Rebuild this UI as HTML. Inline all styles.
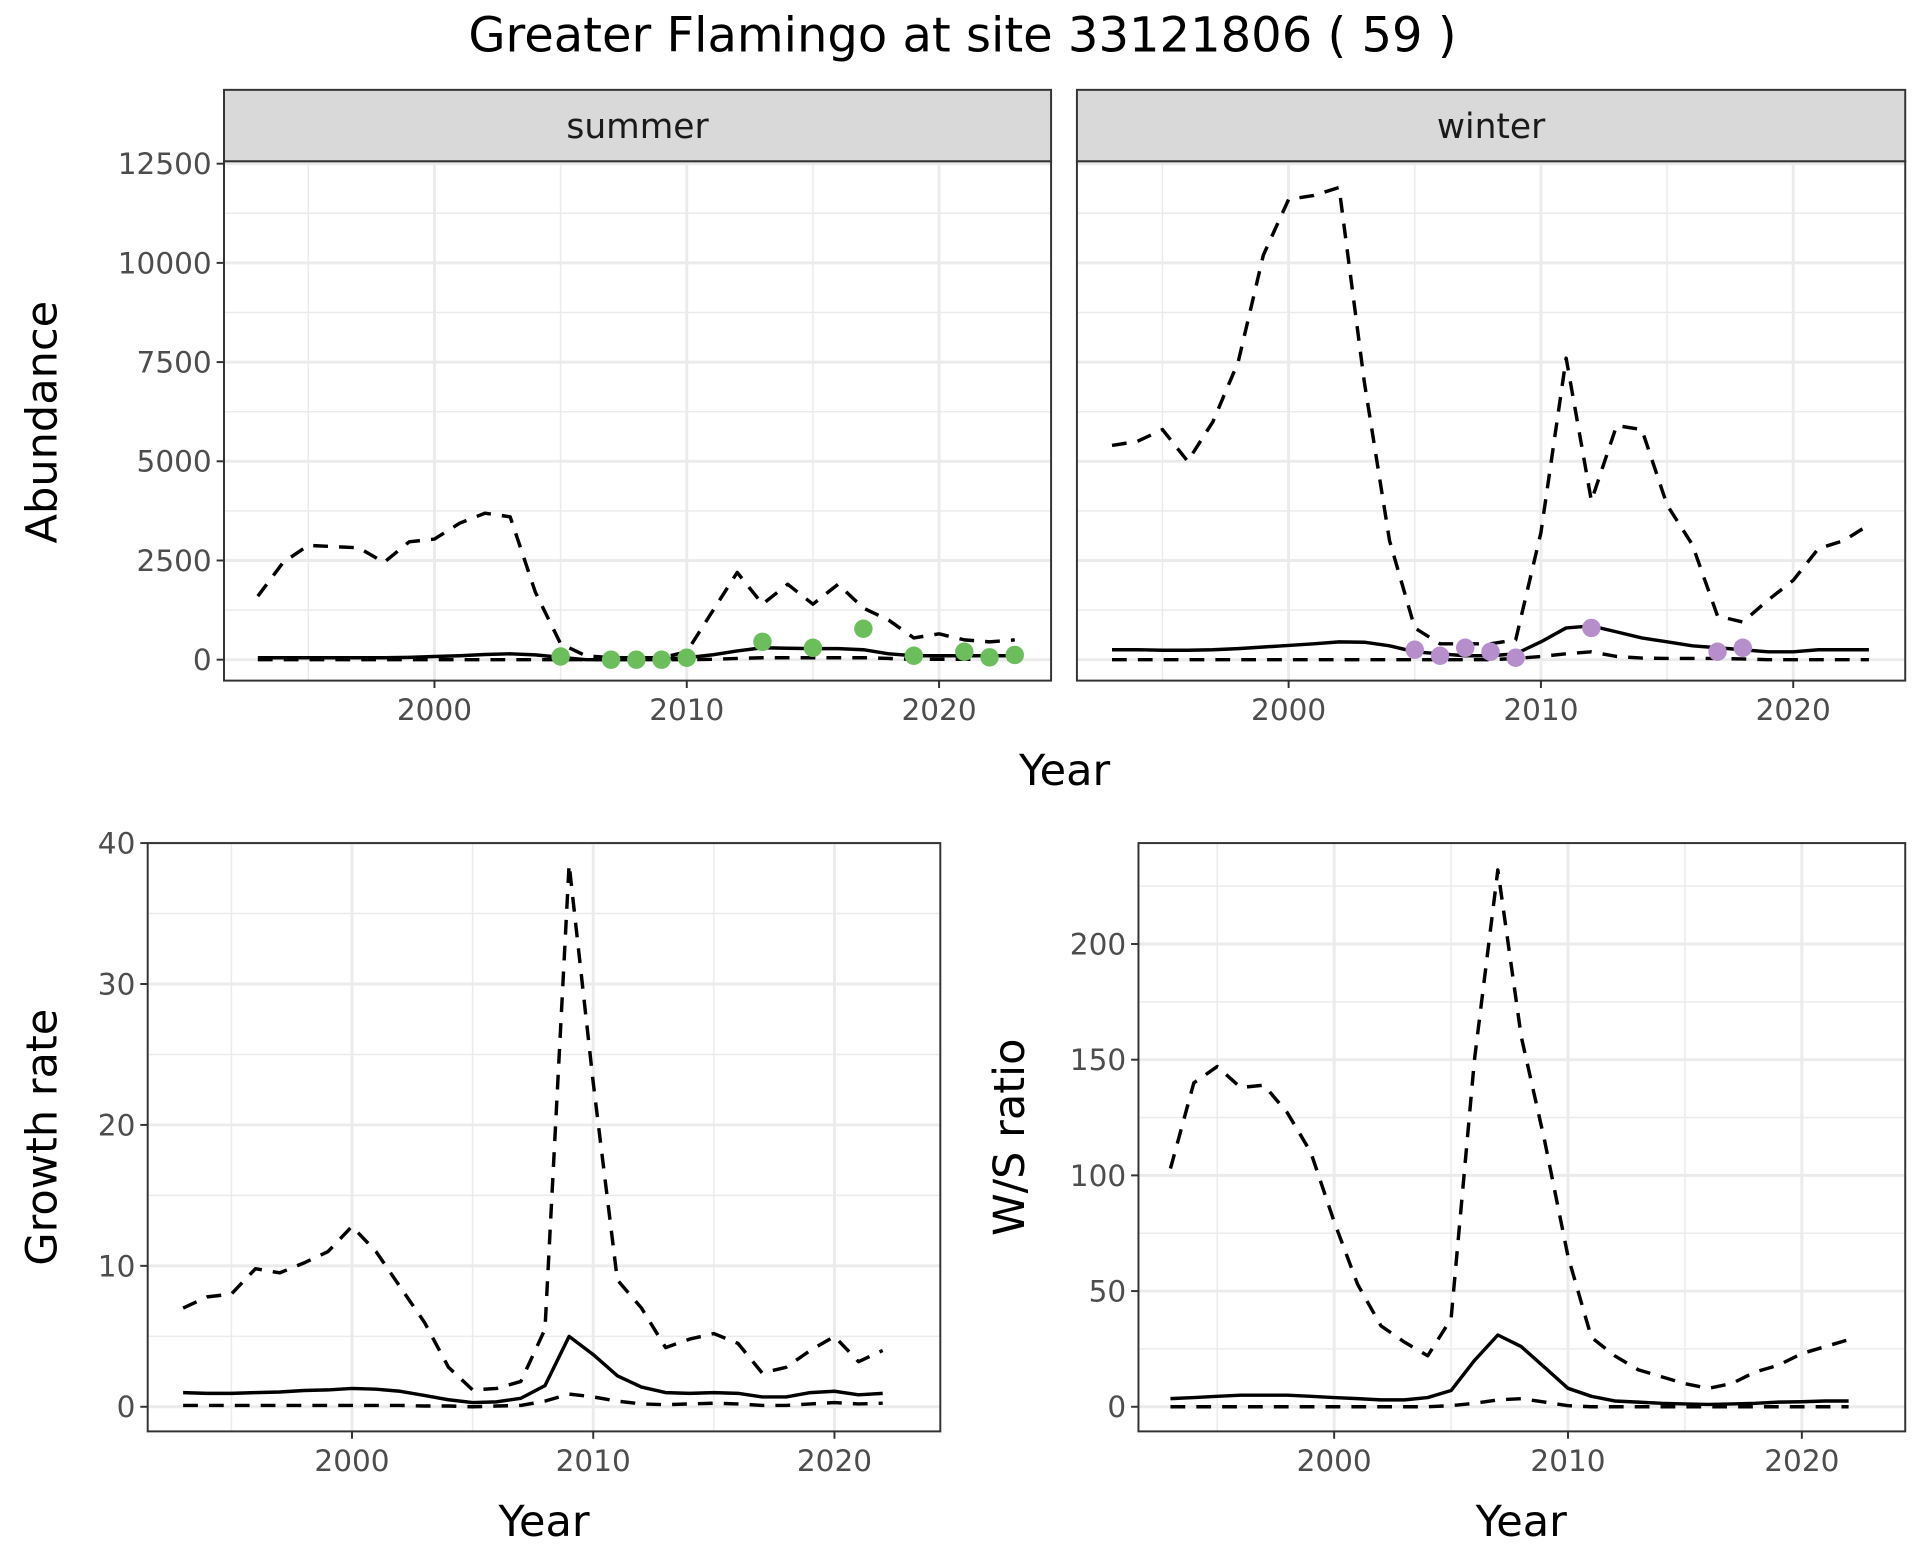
<!DOCTYPE html>
<html><head><meta charset="utf-8">
<style>
html,body{margin:0;padding:0;background:#fff;}
svg{display:block;font-family:"DejaVu Sans","Liberation Sans",sans-serif;}
</style></head>
<body>
<svg id="chart" width="1920" height="1560" viewBox="0 0 1560 1267.5" xmlns="http://www.w3.org/2000/svg">
<rect x="0" y="0" width="1560" height="1267.5" fill="#fff"/>
<text x="782" y="42" text-anchor="middle" font-size="39" fill="#000">Greater Flamingo at site 33121806 ( 59 )</text>
<g id="plots"></g>
</svg>
<script>
const yearsA = [1993,1994,1995,1996,1997,1998,1999,2000,2001,2002,2003,2004,2005,2006,2007,2008,2009,2010,2011,2012,2013,2014,2015,2016,2017,2018,2019,2020,2021,2022,2023];
const summerUpper = [1600,2450,2880,2850,2820,2450,2970,3040,3440,3690,3600,1700,400,100,50,50,50,200,1200,2200,1400,1900,1400,1900,1300,1000,550,650,500,450,500];
const summerMid = [50,50,50,50,50,50,60,80,100,130,150,120,60,0,0,10,20,50,120,220,300,290,280,280,250,150,100,100,100,100,100];
const summerLower = [0,0,0,0,0,0,0,0,0,0,0,0,0,0,0,0,0,0,10,30,50,50,50,50,50,30,10,10,10,10,10];
const summerPtYears = [2005,2007,2008,2009,2010,2013,2015,2017,2019,2021,2022,2023];
const summerPtVals = [80,0,0,0,50,450,300,780,100,200,60,120];
const winterUpper = [5400,5500,5800,5000,6000,7500,10200,11600,11700,11900,7000,3000,800,400,400,400,500,3200,7600,4000,5900,5800,3900,2900,1100,950,1500,2000,2800,3000,3400];
const winterMid = [250,250,240,240,250,280,320,360,400,450,440,350,200,150,100,100,150,450,800,850,700,550,450,350,300,250,200,200,250,250,250];
const winterLower = [0,0,0,0,0,0,0,0,0,0,0,0,0,0,0,0,30,80,150,200,80,40,30,30,30,20,0,0,0,0,0];
const winterPtYears = [2005,2006,2007,2008,2009,2012,2017,2018];
const winterPtVals = [250,100,300,200,50,800,200,300];
const abundTicks = [0,2500,5000,7500,10000,12500];

const yearsB = [1993,1994,1995,1996,1997,1998,1999,2000,2001,2002,2003,2004,2005,2006,2007,2008,2009,2010,2011,2012,2013,2014,2015,2016,2017,2018,2019,2020,2021,2022];
const growthUpper = [7,7.8,8,9.8,9.5,10.2,11,12.8,11,8.5,6,2.8,1.2,1.3,1.8,5.5,38.5,23,9,7,4.2,4.8,5.2,4.5,2.4,2.8,4,5,3.2,4];
const growthMid = [1,0.95,0.95,1,1.05,1.15,1.2,1.3,1.25,1.1,0.8,0.5,0.3,0.35,0.6,1.5,5,3.7,2.2,1.4,1,0.95,1,0.95,0.7,0.7,1,1.1,0.85,0.95];
const growthLower = [0.1,0.1,0.1,0.1,0.1,0.1,0.1,0.1,0.1,0.1,0.05,0.05,0,0.05,0.1,0.4,0.9,0.7,0.4,0.2,0.15,0.2,0.25,0.2,0.1,0.1,0.2,0.3,0.2,0.25];
const growthTicks = [0,10,20,30,40];
const ratioUpper = [103,140,147,138,139,127,110,80,53,35,28,22,38,150,232,160,115,65,30,22,16,13,10,8,10,15,18,23,26,29];
const ratioMid = [3.5,4,4.5,5,5,5,4.5,4,3.5,3,3,4,7,20,31,26,17,8,4.5,2.5,2,1.5,1.2,1,1.2,1.5,2,2.2,2.5,2.5];
const ratioLower = [0,0,0,0,0,0,0,0,0,0,0,0,0.5,1.5,3,3.5,2,0.5,0,0,0,0,0,0,0,0,0,0,0,0];
const ratioTicks = [0,50,100,150,200];
const yearTicks = [2000,2010,2020];

const NS = "http://www.w3.org/2000/svg";
const root = document.getElementById('plots');
function mk(tag, attrs, parent){
  const e = document.createElementNS(NS, tag);
  for (const k in attrs) e.setAttribute(k, attrs[k]);
  (parent||root).appendChild(e);
  return e;
}
function lin(d0,d1,r0,r1){ return v => r0 + (v-d0)/(d1-d0)*(r1-r0); }

function panel(cfg){
  const g = mk('g', {});
  
  
  const {x0,x1,y0,y1,xs,ys} = cfg;
  cfg.minorY.forEach(v=>{
    const l = mk('line',{x1:x0,x2:x1,y1:ys(v),y2:ys(v),stroke:'#EBEBEB','stroke-width':1.2},g);
    
    
  });
  [1995,2005,2015].forEach(v=>{
    const l = mk('line',{x1:xs(v),x2:xs(v),y1:y0,y2:y1,stroke:'#EBEBEB','stroke-width':1.2},g);
    
    
  });
  cfg.ticks.forEach(v=>{
    const l = mk('line',{x1:x0,x2:x1,y1:ys(v),y2:ys(v),stroke:'#EBEBEB','stroke-width':2.4},g);
    
    
  });
  yearTicks.forEach(v=>{
    const l = mk('line',{x1:xs(v),x2:xs(v),y1:y0,y2:y1,stroke:'#EBEBEB','stroke-width':2.4},g);
    
    
  });
  function path(xsArr, vals, dash, name, w){
    const d = vals.map((v,i)=>(i?'L':'M')+xs(xsArr[i]).toFixed(1)+','+ys(v).toFixed(1)).join(' ');
    const p = mk('path',{d, fill:'none', stroke:'#000','stroke-width':w||2.8,'stroke-dasharray':dash||'none','stroke-linejoin':'round'},g);
    
    
  }
  path(cfg.years, cfg.upper, '12,9', 'upper-bound-line');
  path(cfg.years, cfg.lower, '12,9', 'lower-bound-line');
  path(cfg.years, cfg.mid, null, 'trend-line');
  if (cfg.ptYears){
    cfg.ptYears.forEach((yr,i)=>{
      const c = mk('circle',{cx:xs(yr),cy:ys(cfg.ptVals[i]),r:7.5,fill:cfg.ptColor},g);
      
      
    });
  }
  const b = mk('rect',{x:x0,y:y0,width:x1-x0,height:y1-y0,fill:'none',stroke:'#333','stroke-width':1.6},g);
  
  
  if (cfg.showY){
    cfg.ticks.forEach(v=>{
      const t = mk('line',{x1:x0-6,x2:x0,y1:ys(v),y2:ys(v),stroke:'#333','stroke-width':1.6},g);
      
      
      const tx = mk('text',{x:x0-10,y:ys(v)+8.5,'text-anchor':'end','font-size':24,fill:'#4D4D4D'},g);
      tx.textContent = v;
      
      
    });
  }
  yearTicks.forEach(v=>{
    const t = mk('line',{x1:xs(v),x2:xs(v),y1:y1,y2:y1+6,stroke:'#333','stroke-width':1.6},g);
    
    
    const tx = mk('text',{x:xs(v),y:y1+32,'text-anchor':'middle','font-size':24,fill:'#4D4D4D'},g);
    tx.textContent = v;
    
    
  });
  if (cfg.strip){
    const s = mk('rect',{x:x0,y:73,width:x1-x0,height:y0-73,fill:'#D9D9D9',stroke:'#333','stroke-width':1.6},g);
    
    
    const st = mk('text',{x:(x0+x1)/2,y:112,'text-anchor':'middle','font-size':28,fill:'#1A1A1A'},g);
    st.textContent = cfg.strip;
    
    
  }
}

const ysA = lin(0,12500,536,133);
panel({name:'summer-panel',x0:182,x1:854,y0:131,y1:553,xs:lin(2000,2020,353,763),ys:ysA,years:yearsA,upper:summerUpper,mid:summerMid,lower:summerLower,ptYears:summerPtYears,ptVals:summerPtVals,ptColor:'#6BBE5B',ticks:abundTicks,minorY:[1250,3750,6250,8750,11250,13750],showY:true,strip:'summer'});
panel({name:'winter-panel',x0:875,x1:1548,y0:131,y1:553,xs:lin(2000,2020,1047,1457),ys:ysA,years:yearsA,upper:winterUpper,mid:winterMid,lower:winterLower,ptYears:winterPtYears,ptVals:winterPtVals,ptColor:'#B68ECB',ticks:abundTicks,minorY:[1250,3750,6250,8750,11250],showY:false,strip:'winter'});
panel({name:'growth-rate-panel',x0:120,x1:764,y0:685,y1:1163,xs:lin(2000,2020,286,678),ys:lin(0,40,1143,685),years:yearsB,upper:growthUpper,mid:growthMid,lower:growthLower,ticks:growthTicks,minorY:[5,15,25,35],showY:true});
panel({name:'ws-ratio-panel',x0:925,x1:1548,y0:685,y1:1163,xs:lin(2000,2020,1084,1464),ys:lin(0,200,1143,767),years:yearsB,upper:ratioUpper,mid:ratioMid,lower:ratioLower,ticks:ratioTicks,minorY:[25,75,125,175,225],showY:true});

function label(txt,x,y,rot,name){
  const t = mk('text',{x,y,'text-anchor':'middle','font-size':35,fill:'#000'});
  if (rot) t.setAttribute('transform','rotate(-90 '+x+' '+y+')');
  t.textContent = txt;
  
  
}
label('Year',865,638,false,'top-x-axis-title');
label('Abundance',46,343,true,'abundance-axis-title');
label('Year',442,1248,false,'growth-x-axis-title');
label('Growth rate',46,924,true,'growth-rate-axis-title');
label('Year',1236,1248,false,'ratio-x-axis-title');
label('W/S ratio',832,924,true,'ws-ratio-axis-title');
</script>
</body></html>
